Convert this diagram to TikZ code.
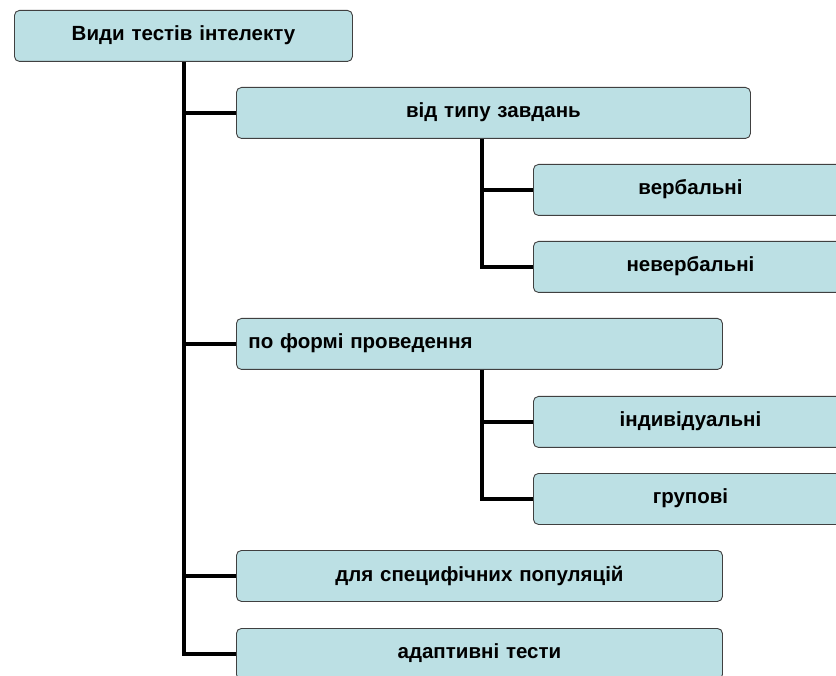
\documentclass[tikz,border=0pt]{standalone}
\usepackage{fontspec}
\setmainfont{Liberation Sans}
\definecolor{boxfill}{HTML}{BCE0E4}
\definecolor{boxline}{HTML}{404040}
\newcommand{\up}[1]{\raisebox{5pt}{#1}}
\begin{document}
\begin{tikzpicture}[x=1pt,y=-1pt,
  box/.style={draw=boxline, line width=0.9pt, fill=boxfill, rounded corners=5pt,
    minimum height=51pt, inner xsep=12pt, inner ysep=0pt, anchor=north west,
    font=\bfseries\fontsize{20.5}{24}\selectfont, align=center},
  conn/.style={line width=3.4pt, black}]
\clip (0,0) rectangle (836,676);
\useasboundingbox (0,0) rectangle (836,676);
% boxes
\node[box, minimum width=338pt, text width=314pt] (root) at (14,10) {\up{Види тестів інтелекту}};
\node[box, minimum width=514pt, text width=490pt] (b1) at (236,87) {\up{від типу завдань}};
\node[box, minimum width=314pt, text width=290pt] (b11) at (533,164) {\up{вербальні}};
\node[box, minimum width=314pt, text width=290pt] (b12) at (533,241) {\up{невербальні}};
\node[box, minimum width=486pt, text width=462pt, align=left] (b2) at (236,318) {\up{по формі проведення}};
\node[box, minimum width=314pt, text width=290pt] (b21) at (533,396) {\up{індивідуальні}};
\node[box, minimum width=314pt, text width=290pt] (b22) at (533,473) {\up{групові}};
\node[box, minimum width=486pt, text width=462pt] (b3) at (236,550) {\up{для специфічних популяцій}};
\node[box, minimum width=486pt, text width=462pt] (b4) at (236,628) {\up{адаптивні тести}};
% trunk coordinates
\coordinate (t) at (184,0);
\coordinate (s) at (482,0);
\draw[conn] (root.south -| t) -- (b4.west -| t) -- (b4.west);
\draw[conn] (b1.west -| t) -- (b1.west);
\draw[conn] (b2.west -| t) -- (b2.west);
\draw[conn] (b3.west -| t) -- (b3.west);
\draw[conn] (b1.south -| s) -- (b12.west -| s) -- (b12.west);
\draw[conn] (b11.west -| s) -- (b11.west);
\draw[conn] (b2.south -| s) -- (b22.west -| s) -- (b22.west);
\draw[conn] (b21.west -| s) -- (b21.west);
\end{tikzpicture}
\end{document}
